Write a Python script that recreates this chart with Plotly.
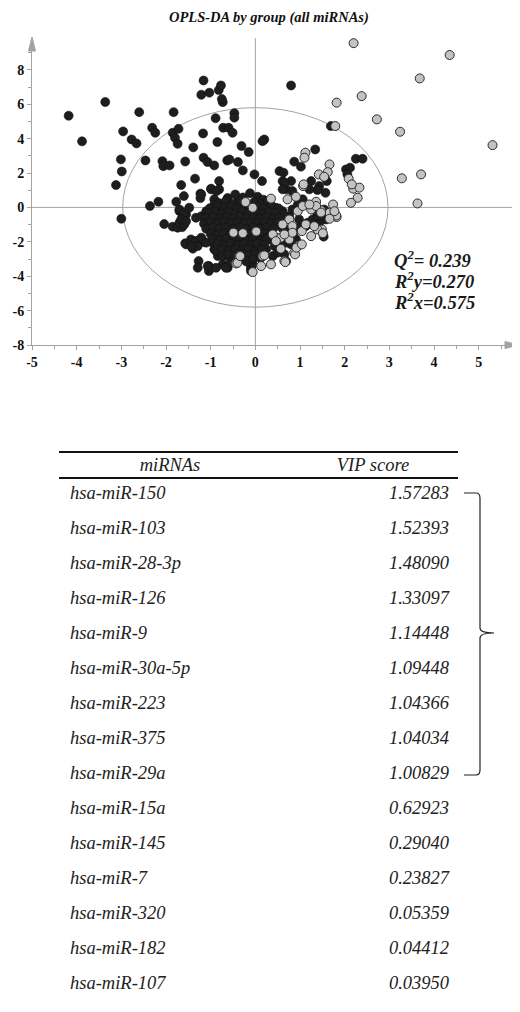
import plotly.graph_objects as go

# ---------------- data ----------------
title_text = "OPLS-DA by group (all miRNAs)"
x_ticks = [-5, -4, -3, -2, -1, 0, 1, 2, 3, 4, 5]
y_ticks = [-8, -6, -4, -2, 0, 2, 4, 6, 8]
stats_labels = ["Q<sup>2</sup>= 0.239", "R<sup>2</sup>y=0.270", "R<sup>2</sup>x=0.575"]
ellipse_a = 2.97
ellipse_b = 5.8

# group 1 (black) scores
black_pts = [
    # upper-left scatter
    (-4.18, 5.33), (-3.88, 3.84), (-3.36, 6.13), (-2.60, 5.54), (-1.83, 5.54),
    (-2.96, 4.42), (-2.77, 3.95), (-2.66, 3.72), (-2.31, 4.63), (-2.24, 4.34),
    (-1.85, 4.34), (-1.80, 4.05), (-1.74, 3.70), (-1.72, 4.57), (-3.01, 2.79),
    (-2.99, 2.09), (-3.12, 1.30), (-3.00, -0.66), (-2.46, 2.73), (-2.08, 2.69),
    (-2.06, 2.40), (-1.92, 2.44), (-1.57, 2.67), (-1.39, 3.49), (-1.17, 4.30),
    (-0.89, 5.19), (-0.85, 3.80), (-0.72, 4.63), (-0.60, 4.63), (-0.51, 4.34),
    (-0.47, 5.48), (-0.47, 5.22), (-0.31, 3.57), (-0.15, 3.22), (-1.16, 2.89),
    (-1.07, 2.64), (-0.92, 2.44), (-0.63, 2.73), (-0.39, 2.64), (-0.28, 2.15),
    (-0.58, 2.79), (-1.35, 1.67), (-0.81, 1.53), (-1.66, 1.30), (-1.23, 0.80),
    (-1.23, 0.54), (-0.99, 1.09), (-0.81, 1.05), (-1.60, 0.66), (-2.36, 0.08),
    (-2.17, 0.33), (-1.77, 0.33), (-0.99, 1.05), (-0.87, 0.95), (-1.21, 0.76),
    (-0.92, 0.47), (-0.92, 0.16),
    # top cluster
    (-1.16, 7.38), (-1.21, 6.55), (-1.03, 6.67), (-0.82, 6.82), (-0.77, 7.09),
    (-0.73, 6.12), (-0.75, 6.30), (0.80, 7.09),
    # upper right
    (1.69, 4.73), (0.20, 3.95), (0.16, 3.85), (2.25, 2.83), (2.40, 2.83),
    (2.03, 2.21), (2.12, 2.31), (2.06, 1.92), (1.34, 3.37), (0.87, 2.66),
    (1.02, 2.37), (1.25, 1.53), (1.43, 1.24), (1.60, 1.53), (1.57, 0.85),
    (1.39, 1.01), (1.21, 1.05), (-0.02, 1.92), (0.15, 1.53), (0.54, 2.11),
    (0.63, 2.02), (0.61, 1.53), (0.80, 1.53), (0.69, 1.05), (0.83, 0.95),
    (0.65, 1.44), (0.61, 1.05),
    # right of core
    (1.58, -0.70), (1.43, -0.89), (1.13, -1.09), (0.98, -0.70), (0.76, -0.51),
    (0.83, -0.12), (0.95, 0.17), (1.06, 0.47), (1.53, -1.70), (0.98, -1.18),
    (1.17, -0.89), (1.28, -0.70), (1.39, -0.51), (1.58, -0.31), (1.66, -0.60),
    (1.54, -0.12), (1.36, -0.22), (0.80, -2.15), (0.69, -2.05), (0.91, -1.86),
    (0.65, -2.73), (0.69, -3.12), (0.39, -2.83), (0.50, -2.63), (0.43, -2.25),
    (0.31, -1.86), (0.46, -1.76), (0.57, -2.05), (0.20, 0.27), (0.24, -0.12),
    (0.46, -0.02), (0.61, -0.22), (0.39, -0.51), (0.54, -0.70), (0.70, -1.30),
    (0.85, -1.60), (0.60, -1.20),
    # left of core
    (-2.04, -0.97), (-1.85, -1.12), (-1.74, -1.18), (-1.64, -1.15), (-1.70, -0.89),
    (-1.59, -0.99), (-1.70, -0.21), (-1.63, -0.60), (-1.55, -0.41), (-1.70, -0.12),
    (-1.59, -0.31), (-1.48, -0.02), (-1.66, -0.70), (-1.55, -0.80), (-1.33, -0.60),
    (-1.21, -0.51), (-1.10, -0.22), (-0.99, -0.80), (-0.88, -0.51), (-0.77, -0.12),
    (-0.66, 0.27), (-0.54, -0.12), (-0.43, 0.17), (-0.36, 0.47),
    # lower core
    (-1.57, -2.09), (-1.40, -2.40), (-1.36, -2.05), (-1.25, -1.90), (-1.14, -2.02),
    (-1.27, -3.12), (-1.29, -3.51), (-1.04, -3.41), (-1.04, -3.70), (-0.73, -3.31),
    (-0.62, -3.51), (-0.96, -2.05), (-0.92, -2.44), (-0.77, -2.25), (-0.84, -2.83),
    (-0.66, -2.54), (-0.58, -2.92), (-0.47, -3.02), (-0.40, -2.73), (-0.54, -2.05),
    (-0.69, -1.76), (-0.10, -3.51), (-0.06, -3.31), (-0.13, -3.02), (0.02, -2.34),
    (0.09, -2.63), (0.24, -2.44), (0.16, -1.86), (0.02, -1.67), (-0.13, -1.86),
    (-0.21, -2.25), (-0.06, -1.18), (-1.55, -2.15), (-1.44, -1.86), (-1.33, -1.96),
    (-1.21, -1.76), (-1.29, -2.25), (-1.10, -2.05), (-0.88, -2.54), (-0.73, -2.83),
    (-0.62, -3.41), (-0.88, -1.47), (-0.73, -1.28), (-0.58, -0.99), (-0.66, -0.70),
    (-0.88, -3.51), (-0.66, -3.51), (-0.10, -3.70), (-1.07, -3.41), (-1.44, -2.25),
    # dense centre of the cloud
    (-0.62, 0.55), (-0.45, 0.75), (-0.28, 0.58), (-0.12, 0.82), (0.05, 0.62), (0.18, 0.45),
    (-0.82, 0.25), (-0.66, 0.38), (-0.50, 0.22), (-0.34, 0.35), (-0.18, 0.15),
    (-0.02, 0.32), (0.12, 0.20), (0.28, 0.38),
    (-1.02, -0.05), (-0.86, 0.08), (-0.70, -0.04), (-0.55, 0.05), (-0.40, -0.08),
    (-0.24, 0.02), (-0.10, -0.10), (0.06, 0.05), (0.20, -0.05), (0.36, 0.10), (0.52, -0.06),
    (-1.05, -0.35), (-0.90, -0.25), (-0.75, -0.38), (-0.60, -0.28), (-0.45, -0.36),
    (-0.30, -0.24), (-0.15, -0.34), (0.00, -0.26), (0.15, -0.38), (0.30, -0.27),
    (0.45, -0.33), (0.62, -0.40),
    (-1.12, -0.62), (-0.95, -0.55), (-0.80, -0.66), (-0.65, -0.57), (-0.50, -0.64),
    (-0.35, -0.55), (-0.20, -0.66), (-0.05, -0.58), (0.10, -0.64), (0.25, -0.55),
    (0.40, -0.66), (0.55, -0.58),
    (-1.15, -0.95), (-1.00, -0.86), (-0.85, -0.94), (-0.70, -0.85), (-0.55, -0.93),
    (-0.40, -0.86), (-0.25, -0.95), (-0.10, -0.87), (0.05, -0.93), (0.20, -0.85),
    (0.35, -0.95), (0.50, -0.88),
    (-1.10, -1.24), (-0.95, -1.16), (-0.80, -1.25), (-0.65, -1.17), (-0.50, -1.23),
    (-0.35, -1.15), (-0.20, -1.24), (-0.05, -1.16), (0.10, -1.25), (0.25, -1.17),
    (0.40, -1.23),
    (-1.00, -1.55), (-0.85, -1.62), (-0.70, -1.52), (-0.55, -1.60), (-0.40, -1.68),
    (-0.25, -1.62), (-0.10, -1.54), (0.05, -1.62), (0.20, -1.52), (0.35, -1.60),
    (-0.95, -1.84), (-0.80, -1.95), (-0.65, -1.82), (-0.50, -1.90), (-0.35, -1.82),
    (-0.20, -1.94), (-0.05, -1.84), (0.10, -1.96), (0.25, -1.85),
    (-0.85, -2.14), (-0.70, -2.22), (-0.55, -2.12), (-0.40, -2.20), (-0.25, -2.12),
    (-0.10, -2.20), (0.05, -2.12), (0.20, -2.18),
    (-0.75, -2.44), (-0.60, -2.52), (-0.45, -2.42), (-0.30, -2.50), (-0.15, -2.42),
    (0.00, -2.55), (0.15, -2.45),
    (-0.60, -2.72), (-0.45, -2.82), (-0.30, -2.70), (-0.15, -2.80), (0.00, -2.72),
    (0.12, -2.95),
    (-0.35, -3.05), (-0.20, -3.15), (-0.05, -3.02),
]

# group 2 (grey) scores
gray_pts = [
    # outliers
    (2.20, 9.55), (4.35, 8.86), (3.68, 7.50), (2.38, 6.47), (1.82, 6.09),
    (1.79, 4.73), (2.72, 5.12), (3.24, 4.40), (5.31, 3.62), (3.71, 1.92),
    (3.28, 1.69), (3.63, 0.23),
    # right cluster
    (1.12, 3.18), (1.10, 2.89), (1.66, 2.50), (1.62, 2.05), (1.42, 1.92),
    (1.54, 1.78), (1.07, 1.24), (2.09, 1.67), (2.19, 1.09), (2.33, 1.15),
    (2.16, 1.34), (2.29, 0.56), (2.14, 0.27), (1.74, 0.17), (1.82, -0.56),
    (1.66, -0.31), (1.47, -0.17), (1.36, 0.33), (1.25, -0.12), (1.36, 0.08),
    (1.47, -0.30), (1.81, -0.47), (1.77, -0.22), (1.66, -0.66), (1.49, -1.28),
    (1.25, -1.67), (1.39, -1.28), (1.04, -1.38), (1.13, -0.99), (1.32, -1.09),
    (1.51, -1.50),
    # inside the cloud
    (0.95, -0.22), (1.06, 0.08), (1.21, 0.17), (0.76, -0.70), (0.83, -1.09),
    (0.61, -0.99), (0.39, -1.57), (0.57, -1.76), (0.76, -1.86), (0.95, -2.25),
    (0.87, -2.63), (0.65, -3.12), (0.35, -3.31), (0.16, -2.83), (0.13, -3.41),
    (-0.06, -3.76), (0.02, -1.40), (0.35, 0.51), (0.72, 0.47), (0.91, 0.62),
    (-0.22, 0.31), (-0.49, -1.47), (-0.43, -3.26), (-0.36, -2.83), (-0.06, -0.02),
    (0.57, -2.40), (0.46, -1.96), (0.89, -2.73), (0.92, -2.34), (1.04, -2.15),
    (0.83, -1.47), (0.65, -1.57), (0.20, -2.79), (0.67, -3.18),
    (-0.28, -1.50), (-0.40, -3.22), (-0.34, -2.83), (1.08, 1.34),
]

# VIP table
table_headers = ["miRNAs", "VIP score"]
mirnas = [
    "hsa-miR-150", "hsa-miR-103", "hsa-miR-28-3p", "hsa-miR-126", "hsa-miR-9",
    "hsa-miR-30a-5p", "hsa-miR-223", "hsa-miR-375", "hsa-miR-29a", "hsa-miR-15a",
    "hsa-miR-145", "hsa-miR-7", "hsa-miR-320", "hsa-miR-182", "hsa-miR-107",
]
vip_scores = [
    1.57283, 1.52393, 1.48090, 1.33097, 1.14448,
    1.09448, 1.04366, 1.04034, 1.00829, 0.62923,
    0.29040, 0.23827, 0.05359, 0.04412, 0.03950,
]
bracket_first, bracket_mid, bracket_last = 0, 4, 8

# ---------------- layout helpers ----------------
# The page body adds an 8 px margin, so the figure is drawn 8 px smaller and
# every target pixel position (window coordinates) is shifted by OFF.
OFF = 8
WIN_W, WIN_H = 520, 1012
W, H = WIN_W - OFF, WIN_H - OFF
SERIF = "Liberation Serif"
AXIS_GRAY = "#a3a3a3"


def px(p):
    return (p - OFF) / W


def py(p):
    return 1 - (p - OFF) / H


fig = go.Figure()

bx = [p[0] for p in black_pts]
by = [p[1] for p in black_pts]
gx = [p[0] for p in gray_pts]
gy = [p[1] for p in gray_pts]

fig.add_trace(go.Scatter(
    x=bx, y=by, mode="markers", cliponaxis=False, hoverinfo="skip",
    marker=dict(size=9, color="#1e1e1e", line=dict(width=0.6, color="#111111")),
    xaxis="x", yaxis="y", showlegend=False))
fig.add_trace(go.Scatter(
    x=gx, y=gy, mode="markers", cliponaxis=False, hoverinfo="skip",
    marker=dict(size=9, color="#c3c3c3", line=dict(width=1, color="#2b2b2b")),
    xaxis="x", yaxis="y", showlegend=False))

# table rows (on a second, hidden pair of axes measured in window pixels)
row_y0, row_gap = 494.0, 35.0
row_y = [row_y0 + i * row_gap for i in range(len(mirnas))]
text_font = dict(family=SERIF, size=18.5, color="#222222", style="italic")

fig.add_trace(go.Scatter(
    x=[70] * len(mirnas), y=row_y, text=mirnas, mode="text",
    textposition="middle right", textfont=text_font, hoverinfo="skip",
    xaxis="x2", yaxis="y2", showlegend=False, cliponaxis=False))
fig.add_trace(go.Scatter(
    x=[449] * len(vip_scores), y=row_y, text=[f"{v:.5f}" for v in vip_scores],
    mode="text", textposition="middle left", textfont=text_font, hoverinfo="skip",
    xaxis="x2", yaxis="y2", showlegend=False, cliponaxis=False))
fig.add_trace(go.Scatter(
    x=[170, 373], y=[466, 466], text=table_headers, mode="text",
    textposition="middle center", textfont=text_font, hoverinfo="skip",
    xaxis="x2", yaxis="y2", showlegend=False, cliponaxis=False))

shapes = []
# ellipse (Hotelling T2) and cross-hairs
shapes.append(dict(type="circle", xref="x", yref="y", x0=-ellipse_a, x1=ellipse_a,
                   y0=-ellipse_b, y1=ellipse_b, line=dict(color=AXIS_GRAY, width=1),
                   layer="below"))
shapes.append(dict(type="line", xref="x", yref="y", x0=0, x1=0, y0=-8, y1=9.85,
                   line=dict(color=AXIS_GRAY, width=1), layer="below"))
shapes.append(dict(type="line", xref="x", yref="y", x0=-5, x1=5.88, y0=0, y1=0,
                   line=dict(color=AXIS_GRAY, width=1), layer="below"))
# axis arrowheads (paper coordinates, so they are not clipped)
shapes.append(dict(type="path", xref="paper", yref="paper",
                   path=(f"M {px(32)},{py(37)} L {px(28.5)},{py(51)} "
                         f"L {px(35.5)},{py(51)} Z"),
                   fillcolor=AXIS_GRAY, line=dict(color=AXIS_GRAY, width=1)))
shapes.append(dict(type="path", xref="paper", yref="paper",
                   path=(f"M {px(519)},{py(345)} L {px(505)},{py(341.5)} "
                         f"L {px(505)},{py(348.5)} Z"),
                   fillcolor=AXIS_GRAY, line=dict(color=AXIS_GRAY, width=1)))
# table rules
for yy in (452, 478):
    shapes.append(dict(type="line", xref="x2", yref="y2", x0=59, x1=458, y0=yy, y1=yy,
                       line=dict(color="#111111", width=2)))
# bracket
y0b = row_y[bracket_first] - 1
ymb = row_y[bracket_mid] - 1
y1b = row_y[bracket_last] + 1
xl, xv, xn = 464, 480, 494
path = (f"M {xl},{y0b} L {xv-4},{y0b} Q {xv},{y0b} {xv},{y0b+5} "
        f"L {xv},{ymb-5} Q {xv},{ymb} {xn},{ymb} Q {xv},{ymb} {xv},{ymb+5} "
        f"L {xv},{y1b-5} Q {xv},{y1b} {xv-4},{y1b} L {xl},{y1b}")
shapes.append(dict(type="path", xref="x2", yref="y2", path=path,
                   line=dict(color="#222222", width=1.2)))

annotations = [
    dict(text=f"<b><i>{title_text}</i></b>", xref="paper", yref="paper",
         x=px(269), y=py(18), xanchor="center", yanchor="middle", showarrow=False,
         font=dict(family=SERIF, size=14.5, color="#111111")),
]
for i, lab in enumerate(stats_labels):
    annotations.append(dict(
        text=f"<b><i>{lab}</i></b>", xref="paper", yref="paper",
        x=px(392), y=py(259 + 21 * i), xanchor="left", yanchor="middle",
        showarrow=False, font=dict(family=SERIF, size=18.5, color="#1a1a1a")))

tickfont = dict(family=SERIF, size=14, color="#111111", weight="bold")
fig.update_layout(
    width=W, height=H, margin=dict(l=0, r=0, t=0, b=0),
    paper_bgcolor="white", plot_bgcolor="white", showlegend=False,
    shapes=shapes, annotations=annotations,
    xaxis=dict(domain=[px(32), px(518)], range=[-5, 5.88], anchor="y",
               showgrid=False, zeroline=False, showline=True, linecolor=AXIS_GRAY,
               linewidth=1, ticks="outside", ticklen=4, tickcolor=AXIS_GRAY,
               tickvals=x_ticks, ticktext=[f"<b>{t}</b>" for t in x_ticks],
               tickfont=tickfont, automargin=False,
               minor=dict(dtick=0.5, tick0=0, ticks="outside", ticklen=3,
                          tickcolor=AXIS_GRAY, showgrid=False)),
    yaxis=dict(domain=[py(345), py(38)], range=[-8, 9.85], anchor="x",
               showgrid=False, zeroline=False, showline=True, linecolor=AXIS_GRAY,
               linewidth=1, ticks="outside", ticklen=4, tickcolor=AXIS_GRAY,
               tickvals=y_ticks, ticktext=[f"<b>{t}</b>" for t in y_ticks],
               tickfont=tickfont, automargin=False,
               minor=dict(dtick=1, tick0=0, ticks="outside", ticklen=3,
                          tickcolor=AXIS_GRAY, showgrid=False)),
    xaxis2=dict(domain=[0, 1], range=[OFF, WIN_W], anchor="y2", visible=False),
    yaxis2=dict(domain=[0, py(440)], range=[WIN_H, 440], anchor="x2", visible=False),
)

fig.write_html("out.html")
